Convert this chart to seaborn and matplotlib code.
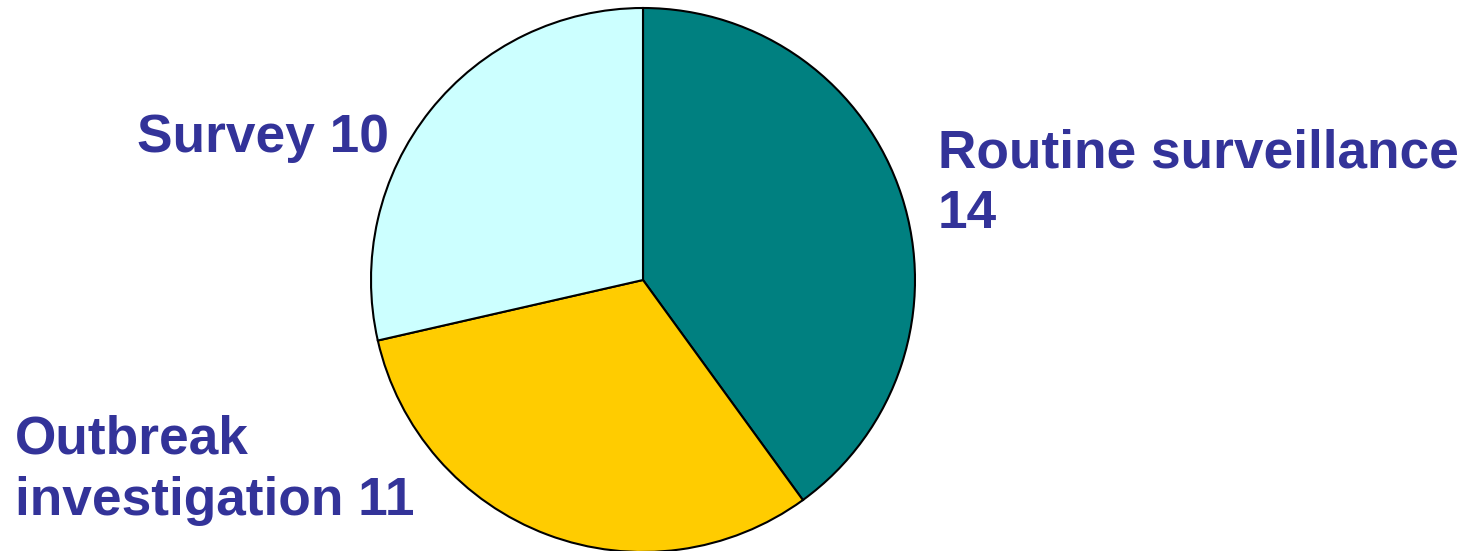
import matplotlib
matplotlib.use("Agg")
import matplotlib.pyplot as plt
import seaborn as sns

categories = ['Routine surveillance', 'Outbreak investigation', 'Survey']
counts = [14, 11, 10]
colors = ['#008080', '#FFCC00', '#CCFFFF']

sns.set_theme(style='white')
plt.rcParams['font.family'] = ['Liberation Sans', 'DejaVu Sans']

W, H = 1474, 551
fig = plt.figure(figsize=(W / 100, H / 100), dpi=100)
ax = fig.add_axes([0, 0, 1, 1])

# pie centre / radius in pixel units (y counted from the bottom)
ax.pie(counts, colors=colors, startangle=90, counterclock=False,
       center=(643, H - 280), radius=272,
       wedgeprops=dict(edgecolor='black', linewidth=1.5))
ax.set_xlim(0, W)
ax.set_ylim(0, H)
ax.set_aspect('equal')
ax.axis('off')

txt = dict(color='#333399', fontweight='bold', fontsize=38.3, va='baseline', ha='left')
ax.text(137, H - 152, f'{categories[2]} {counts[2]}', **txt)
ax.text(938, H - 167, categories[0], **txt)
ax.text(938, H - 228, str(counts[0]), **txt)
ax.text(15, H - 453, 'Outbreak', **txt)
ax.text(15, H - 515, f'investigation {counts[1]}', **txt)

fig.savefig('out.png', dpi=100)
